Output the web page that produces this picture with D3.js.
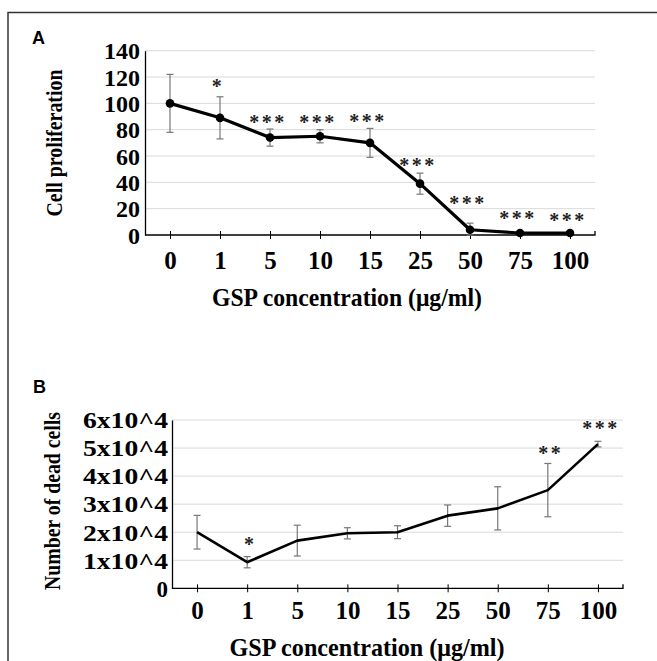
<!DOCTYPE html>
<html>
<head>
<meta charset="utf-8">
<script src="https://cdn.jsdelivr.net/npm/d3@7"></script>
<style>
  body { margin: 0; background: #fff; }
  svg { display: block; }
</style>
</head>
<body>
<div id="chart"></div>
<script>
// categories shared by both panels (GSP in ug/ml)
var concentrations = ["0", "1", "5", "10", "15", "25", "50", "75", "100"];

// panel A - cell proliferation
var prolifMean = [100, 89, 74, 75, 70, 39, 4, 1.5, 1.5];
var prolifErr = [22, 16, 6.5, 5, 11, 8, 5, 0.6, 0.6];
var prolifStars = ["", "*", "***", "***", "***", "***", "***", "***", "***"];
var prolifStarAt = [null, 108, 80.5, 80.5, 81, 48, 19, 7.6, 6];
var prolifTicks = [0, 20, 40, 60, 80, 100, 120, 140];

// panel B - number of dead cells
var deadMean = [20000, 9300, 17000, 19600, 20000, 25900, 28500, 35000, 51400];
var deadErr = [6000, 2000, 5500, 2000, 2300, 3800, 7700, 9500, 1000];
var deadStars = ["", "*", "", "", "", "", "", "**", "***"];
var deadStarAt = [null, 13300, null, null, null, null, null, 45600, 54800];
var deadTicks = [0, 10000, 20000, 30000, 40000, 50000, 60000];
var deadTickLabels = ["0", "1x10^4", "2x10^4", "3x10^4", "4x10^4", "5x10^4", "6x10^4"];

var W = 657, H = 661;
var serif = "'Liberation Serif', 'Times New Roman', serif";

var svg = d3.select("#chart").append("svg")
    .attr("width", W)
    .attr("height", H);

// outer frame
svg.append("path")
    .attr("d", "M8,661 V12.5 H657")
    .attr("fill", "none")
    .attr("stroke", "#333")
    .attr("stroke-width", 1.5);

function drawPanel(p) {
    var g = svg.append("g");
    var x = d3.scalePoint().domain(concentrations).range([p.left, p.right]).padding(0.5);
    var y = d3.scaleLinear().domain([0, p.max]).range([p.bottom, p.top]);

    g.append("text")
      .attr("x", p.letterX).attr("y", p.letterY)
      .attr("font-family", "'Liberation Sans', Arial, sans-serif")
      .attr("font-weight", "bold")
      .attr("font-size", 18)
      .text(p.letter);

    // grid
    g.selectAll(".grid").data(p.ticks.slice(1)).enter().append("line")
      .attr("x1", p.left).attr("x2", p.right)
      .attr("y1", function(d) { return y(d); })
      .attr("y2", function(d) { return y(d); })
      .attr("stroke", "#d9d9d9")
      .attr("stroke-width", 1);

    // y axis
    var yAxis = d3.axisLeft(y).tickValues(p.ticks).tickSize(0).tickPadding(p.yPad)
        .tickFormat(function(d, i) { return p.tickLabels[i]; });
    var ya = g.append("g").attr("transform", "translate(" + p.left + ",0)").call(yAxis);
    ya.select(".domain").attr("stroke", "#000").attr("stroke-width", 1.3);
    ya.selectAll("text")
      .attr("font-family", serif)
      .attr("font-weight", "bold")
      .attr("font-size", p.yFont)
      .attr("fill", "#000")
      .attr("dy", "0.34em")
      .each(function(d, i) {
          if (p.yTextLen && p.tickLabels[i].length > 1) {
              d3.select(this).attr("textLength", p.yTextLen).attr("lengthAdjust", "spacingAndGlyphs");
          }
      });

    // x axis, ticks cross the line
    var xAxis = d3.axisBottom(x).tickSize(0).tickPadding(p.xPad);
    var xa = g.append("g").attr("transform", "translate(0," + p.bottom + ")").call(xAxis);
    xa.select(".domain").attr("stroke", "#000").attr("stroke-width", 1.3)
      .attr("d", "M" + p.left + ",0H" + p.right + "V-4");
    xa.selectAll(".tick line").attr("y1", -4).attr("y2", 4).attr("stroke", "#000");
    xa.selectAll("text")
      .attr("font-family", serif)
      .attr("font-weight", "bold")
      .attr("font-size", 25)
      .attr("fill", "#000");

    // axis titles
    g.append("text")
      .attr("x", p.xTitleX).attr("y", p.xTitleY)
      .attr("text-anchor", "middle")
      .attr("font-family", serif)
      .attr("font-weight", "bold")
      .attr("font-size", 25)
      .attr("fill", "#000")
      .attr("textLength", p.xTitleLen)
      .attr("lengthAdjust", "spacingAndGlyphs")
      .text("GSP concentration (\u03bcg/ml)");

    g.append("text")
      .attr("transform", "translate(" + p.yTitleX + "," + p.yTitleY + ") rotate(-90)")
      .attr("text-anchor", "middle")
      .attr("font-family", serif)
      .attr("font-weight", "bold")
      .attr("font-size", 24)
      .attr("fill", "#000")
      .attr("textLength", p.yTitleLen)
      .attr("lengthAdjust", "spacingAndGlyphs")
      .text(p.yTitle);

    // error bars
    var eb = g.selectAll(".err").data(p.mean).enter().append("g")
      .attr("stroke", "#777").attr("stroke-width", 1.2);
    eb.append("line")
      .attr("x1", function(d, i) { return x(concentrations[i]); })
      .attr("x2", function(d, i) { return x(concentrations[i]); })
      .attr("y1", function(d, i) { return y(d + p.err[i]); })
      .attr("y2", function(d, i) { return y(Math.max(0, d - p.err[i])); });
    eb.append("line")
      .attr("x1", function(d, i) { return x(concentrations[i]) - 3.5; })
      .attr("x2", function(d, i) { return x(concentrations[i]) + 3.5; })
      .attr("y1", function(d, i) { return y(d + p.err[i]); })
      .attr("y2", function(d, i) { return y(d + p.err[i]); });
    eb.append("line")
      .attr("x1", function(d, i) { return x(concentrations[i]) - 3.5; })
      .attr("x2", function(d, i) { return x(concentrations[i]) + 3.5; })
      .attr("y1", function(d, i) { return y(Math.max(0, d - p.err[i])); })
      .attr("y2", function(d, i) { return y(Math.max(0, d - p.err[i])); });

    // line
    var line = d3.line()
      .x(function(d, i) { return x(concentrations[i]); })
      .y(function(d) { return y(d); });
    g.append("path")
      .datum(p.mean)
      .attr("d", line)
      .attr("fill", "none")
      .attr("stroke", "#000")
      .attr("stroke-width", p.lineW)
      .attr("stroke-linejoin", "round");

    if (p.dots) {
        g.selectAll(".dot").data(p.mean).enter().append("circle")
          .attr("cx", function(d, i) { return x(concentrations[i]); })
          .attr("cy", function(d) { return y(d); })
          .attr("r", 4.3)
          .attr("fill", "#000");
    }

    // significance stars
    p.stars.forEach(function(s, i) {
        if (!s) return;
        g.append("text")
          .attr("x", x(concentrations[i]) + p.starDx)
          .attr("y", y(p.starAt[i]))
          .attr("text-anchor", "middle")
          .attr("font-family", serif)
          .attr("font-weight", "bold")
          .attr("font-size", 20)
          .attr("letter-spacing", 2.5)
          .attr("fill", "#222")
          .text(s);
    });
}

drawPanel({
    letter: "A", letterX: 32, letterY: 44,
    left: 145, right: 595, top: 50.7, bottom: 235, max: 140,
    ticks: prolifTicks, tickLabels: prolifTicks.map(String),
    yFont: 24, yPad: 5, yTextLen: 0, xPad: 16,
    mean: prolifMean, err: prolifErr, stars: prolifStars, starAt: prolifStarAt,
    xTitleX: 347, xTitleY: 306, xTitleLen: 270,
    yTitle: "Cell proliferation", yTitleX: 62, yTitleY: 143, yTitleLen: 147,
    lineW: 3.2, dots: true, starDx: -2
});

drawPanel({
    letter: "B", letterX: 33, letterY: 393,
    left: 172, right: 623, top: 420, bottom: 588.3, max: 60000,
    ticks: deadTicks, tickLabels: deadTickLabels,
    yFont: 23, yPad: 4, yTextLen: 85, xPad: 13,
    mean: deadMean, err: deadErr, stars: deadStars, starAt: deadStarAt,
    xTitleX: 367, xTitleY: 656, xTitleLen: 275,
    yTitle: "Number of dead cells", yTitleX: 60, yTitleY: 501, yTitleLen: 178,
    lineW: 2.6, dots: false, starDx: 3
});
</script>
</body>
</html>
